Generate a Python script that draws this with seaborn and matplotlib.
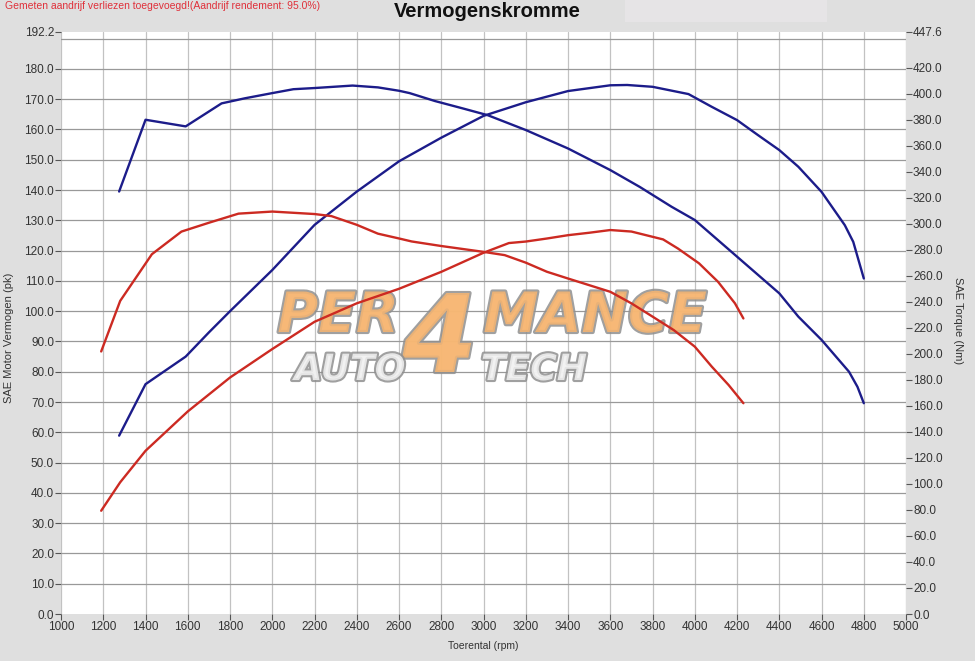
import numpy as np
import pandas as pd
import matplotlib
matplotlib.use("Agg")
import matplotlib.pyplot as plt
import matplotlib.patheffects as pe
from matplotlib.patches import Rectangle
import seaborn as sns

# data
# tuned (blue) power, pk
rpm_pk_blue = [1275, 1400, 1590, 1700, 1800, 2000, 2200, 2400, 2600, 2800, 3000, 3200, 3400,
               3600, 3680, 3800, 3970, 4080, 4200, 4300, 4400, 4490, 4600, 4710, 4750, 4800]
pk_blue = [58.9, 75.9, 85.0, 93.0, 100.0, 113.6, 128.5, 139.5, 149.5, 157.3, 164.5, 169.0, 172.7,
           174.6, 174.7, 174.1, 171.7, 167.5, 163.1, 158.1, 153.2, 147.7, 139.4, 128.4, 122.9, 110.8]

# tuned (blue) torque, Nm
rpm_nm_blue = [1275, 1400, 1590, 1760, 1870, 2000, 2100, 2200, 2380, 2500, 2600, 2650, 2770, 2900,
               3020, 3200, 3400, 3600, 3740, 3890, 4000, 4200, 4400, 4490, 4600, 4730, 4770, 4800]
nm_blue = [324.9, 380.1, 375.0, 392.7, 396.6, 400.6, 403.6, 404.5, 406.4, 405.0, 402.4, 400.6, 394.5, 388.9,
           383.6, 372.2, 358.0, 341.4, 328.4, 313.2, 303.0, 274.8, 246.6, 228.7, 210.8, 186.3, 174.7, 162.1]

# stock (red) power, pk
rpm_pk_red = [1190, 1280, 1400, 1600, 1800, 2000, 2200, 2400, 2600, 2800, 3000, 3120, 3200, 3300,
              3400, 3500, 3600, 3700, 3850, 3920, 4020, 4110, 4190, 4230]
pk_red = [34.1, 43.5, 53.9, 66.9, 78.1, 87.5, 96.5, 102.6, 107.4, 113.0, 119.3, 122.5, 123.0, 124.0,
          125.1, 125.9, 126.8, 126.3, 123.7, 120.7, 115.8, 109.7, 102.6, 97.6]

# stock (red) torque, Nm
rpm_nm_red = [1190, 1280, 1430, 1570, 1700, 1840, 2000, 2200, 2280, 2400, 2500, 2600, 2660, 2800,
              3000, 3100, 3200, 3300, 3400, 3600, 3700, 3800, 3900, 4000, 4080, 4160, 4230]
nm_red = [201.9, 240.8, 276.7, 294.1, 300.9, 307.9, 309.5, 307.6, 306.0, 299.3, 292.5, 288.8, 286.5, 283.0,
          278.5, 276.0, 270.2, 263.2, 258.0, 247.8, 238.9, 228.7, 218.4, 205.6, 190.3, 176.1, 162.1]

pk_max = 192.2
nm_max = 447.6
pk_ticks = [0, 10, 20, 30, 40, 50, 60, 70, 80, 90, 100, 110, 120, 130, 140, 150, 160, 170, 180, 192.2]
pk_grid = [10, 20, 30, 40, 50, 60, 70, 80, 90, 100, 110, 120, 130, 140, 150, 160, 170, 180, 190]
nm_ticks = [0, 20, 40, 60, 80, 100, 120, 140, 160, 180, 200, 220, 240, 260, 280, 300, 320, 340,
            360, 380, 400, 420, 447.6]
rpm_ticks = list(range(1000, 5001, 200))

BLUE = "#1c1c8a"
RED = "#cc2a22"
BG = "#dfdfdf"

sns.set_theme(style="white")
plt.rcParams["font.family"] = ["Liberation Sans", "DejaVu Sans"]

fig = plt.figure(figsize=(9.75, 6.61), dpi=100, facecolor=BG)
ax = fig.add_axes([0.0626, 0.0711, 0.8667, 0.8805])
ax.set_facecolor("white")
ax2 = ax.twinx()

# grid
ax.set_xlim(1000, 5000)
ax.set_ylim(0, pk_max)
ax.set_xticks(rpm_ticks)
ax.set_yticks(pk_ticks)
ax.set_yticklabels([f"{v:.1f}" for v in pk_ticks])
ax.yaxis.remove_overlapping_locs = False
ax.set_yticks(pk_grid, minor=True)
ax.yaxis.grid(False, which="major")
ax.yaxis.grid(True, which="minor", color="#999999", linewidth=0.9)
ax.xaxis.grid(True, which="major", color="#c2c2c2", linewidth=0.9)
ax.set_axisbelow(True)

ax2.set_ylim(0, nm_max)
ax2.set_yticks(nm_ticks)
ax2.set_yticklabels([f"{v:.1f}" for v in nm_ticks])

for a in (ax, ax2):
    for s in a.spines.values():
        s.set_visible(False)
ax.tick_params(axis="both", which="major", direction="out", length=4, width=0.8,
               color="#555555", labelcolor="#333333", labelsize=8.5, pad=1)
ax.tick_params(axis="y", which="minor", length=0)
ax.tick_params(left=True, bottom=True)
ax2.tick_params(axis="y", direction="out", length=4, width=0.8, color="#555555",
                labelcolor="#333333", labelsize=8.5, pad=1, right=True)

# watermark logo, below the curves
logo_kw = dict(transform=fig.transFigure, fontstyle="italic", fontweight="bold", zorder=1,
               family="DejaVu Sans", ha="center", va="baseline", alpha=0.85)
stroke = [pe.withStroke(linewidth=3, foreground="#8f8f8f")]
ORANGE = "#f7b774"
ax.text(338 / 975, 1 - 332 / 661, "PER", fontsize=40, color=ORANGE, path_effects=stroke, **logo_kw)
ax.text(440 / 975, 1 - 372 / 661, "4", fontsize=78, color=ORANGE, path_effects=stroke, **logo_kw)
ax.text(595 / 975, 1 - 332 / 661, "MANCE", fontsize=40, color=ORANGE, path_effects=stroke, **logo_kw)
ax.text(350 / 975, 1 - 380 / 661, "AUTO", fontsize=26, color="#f2f2f2", path_effects=stroke, **logo_kw)
ax.text(534 / 975, 1 - 380 / 661, "TECH", fontsize=26, color="#f2f2f2", path_effects=stroke, **logo_kw)

# curves
sns.lineplot(x=rpm_pk_red, y=pk_red, ax=ax, color=RED, linewidth=1.7, estimator=None, zorder=3)
sns.lineplot(x=rpm_pk_blue, y=pk_blue, ax=ax, color=BLUE, linewidth=1.7, estimator=None, zorder=3)
sns.lineplot(x=rpm_nm_red, y=nm_red, ax=ax2, color=RED, linewidth=1.7, estimator=None, zorder=3)
sns.lineplot(x=rpm_nm_blue, y=nm_blue, ax=ax2, color=BLUE, linewidth=1.7, estimator=None, zorder=3)
ax2.set_ylim(0, nm_max)
ax.set_ylim(0, pk_max)
ax.set_xlim(1000, 5000)

# labels
ax.set_xlabel("Toerental (rpm)", fontsize=7.5, color="#333333")
ax.xaxis.set_label_coords(0.5, -0.047)
ax.set_ylabel("SAE Motor Vermogen (pk)", fontsize=8, color="#333333")
ax.yaxis.set_label_coords(-0.0556, 0.475)
ax2.set_ylabel("SAE Torque (Nm)", fontsize=8, color="#333333", rotation=270, va="center")
ax2.yaxis.set_label_coords(1.0615, 0.505)

fig.patches.append(Rectangle((0.641, 0.967), 0.207, 0.033, transform=fig.transFigure,
                             facecolor="#e6e4e6", edgecolor="none", zorder=0))
fig.text(0.4995, 0.983, "Vermogenskromme", ha="center", va="center", fontsize=14.5,
         fontweight="bold", color="#111111")
fig.text(0.005, 0.991, "Gemeten aandrijf verliezen toegevoegd!(Aandrijf rendement: 95.0%)",
         ha="left", va="center", fontsize=7.5, color="#e0303a")

fig.savefig("out.png", dpi=100, facecolor=BG)
